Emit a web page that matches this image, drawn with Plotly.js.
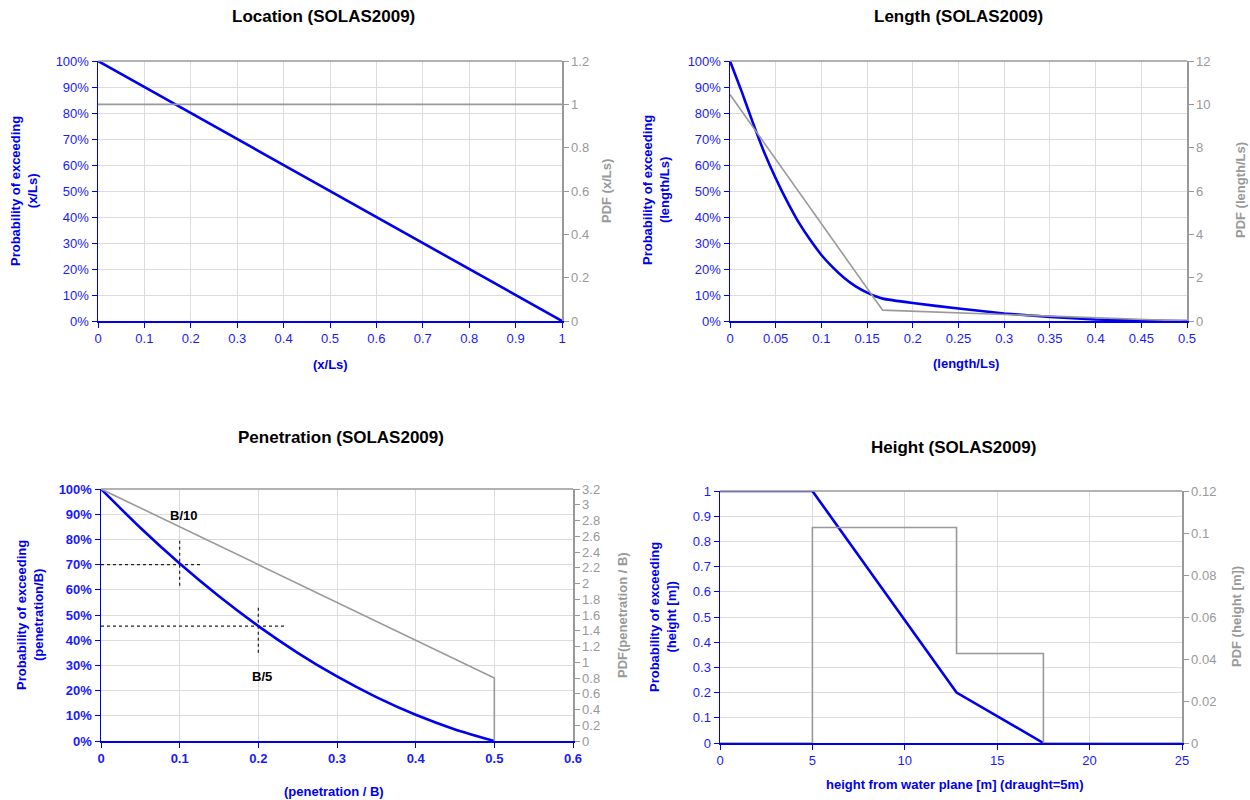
<!DOCTYPE html>
<html>
<head>
<meta charset="utf-8">
<script src="https://cdn.plot.ly/plotly-3.0.1.min.js"></script>
<style>html,body{margin:0;padding:0;background:#fff;}#chart{width:1250px;height:800px;}</style>
</head>
<body>
<div id="chart"></div>
<script>
// ---- Location ----
const locX = [0, 1];
const locProb = [1, 0];
const locPdfX = [0, 1];
const locPdf = [1, 1];

// ---- Length ----
const lenX = [0, 0.0125, 0.025, 0.0375, 0.05, 0.0625, 0.075, 0.0875, 0.1, 0.1125, 0.125, 0.1375, 0.15, 0.16, 0.167, 0.2, 0.25, 0.3, 0.35, 0.4, 0.45, 0.5];
const lenProb = [1, 0.885, 0.763, 0.648, 0.549, 0.46, 0.38, 0.313, 0.254, 0.206, 0.165, 0.133, 0.109, 0.094, 0.086, 0.069, 0.048, 0.029, 0.016, 0.006, 0.001, 0];
const lenPdfX = [0, 0.167, 0.5];
const lenPdf = [10.45, 0.5, 0];

// ---- Penetration ----
const penX = [0, 0.05, 0.1, 0.15, 0.2, 0.25, 0.3, 0.35, 0.4, 0.45, 0.5];
const penProb = [1, 0.846, 0.704, 0.574, 0.456, 0.35, 0.256, 0.174, 0.104, 0.046, 0];
const penPdfX = [0, 0.5, 0.5];
const penPdf = [3.2, 0.8, 0];
const refH1X = [0, 0.127]; const refH1Y = [0.70, 0.70];
const refV1X = [0.1, 0.1]; const refV1Y = [0.616, 0.804];
const refH2X = [0, 0.233]; const refH2Y = [0.456, 0.456];
const refV2X = [0.2, 0.2]; const refV2Y = [0.35, 0.54];
const penLabels = ['B/10', 'B/5'];
const penLabelX = [0.105, 0.205];
const penLabelY = [0.895, 0.255];

// ---- Height ----
const hX = [0, 5, 12.8, 17.5];
const hProb = [1, 1, 0.2, 0];
const hPdfX = [0, 5, 5, 12.8, 12.8, 17.5, 17.5, 25];
const hPdf = [0, 0, 0.1026, 0.1026, 0.0426, 0.0426, 0, 0];

const BLUE = '#0000ee';
const TBLUE = '#1a1aff';
const GRAY = '#999999';
const GRID = '#dcdcdc';
const FONT = 'Liberation Sans, Arial, sans-serif';
const TICK = 13;

function probLine(x, y, xa, ya) {
  return {x: x, y: y, xaxis: xa, yaxis: ya, type: 'scatter', mode: 'lines',
          line: {color: BLUE, width: 2.6}, hoverinfo: 'skip', showlegend: false};
}
function pdfLine(x, y, xa, ya) {
  return {x: x, y: y, xaxis: xa, yaxis: ya, type: 'scatter', mode: 'lines',
          line: {color: GRAY, width: 1.6}, hoverinfo: 'skip', showlegend: false};
}
function refLine(x, y) {
  return {x: x, y: y, xaxis: 'x3', yaxis: 'y5', type: 'scatter', mode: 'lines',
          line: {color: '#222222', width: 1.2, dash: 'dot'}, hoverinfo: 'skip', showlegend: false};
}

const lenPt = {x: lenX, y: lenProb, xaxis: 'x2', yaxis: 'y3', type: 'scatter', mode: 'lines',
               line: {color: BLUE, width: 2.6, shape: 'spline', smoothing: 0.5}, hoverinfo: 'skip', showlegend: false};
const penPt = {x: penX, y: penProb, xaxis: 'x3', yaxis: 'y5', type: 'scatter', mode: 'lines',
               line: {color: BLUE, width: 2.6, shape: 'spline', smoothing: 0.6}, hoverinfo: 'skip', showlegend: false};

const data = [
  pdfLine(locPdfX, locPdf, 'x', 'y2'),
  probLine(locX, locProb, 'x', 'y'),
  pdfLine(lenPdfX, lenPdf, 'x2', 'y4'),
  lenPt,
  pdfLine(penPdfX, penPdf, 'x3', 'y6'),
  refLine(refH1X, refH1Y), refLine(refV1X, refV1Y),
  refLine(refH2X, refH2Y), refLine(refV2X, refV2Y),
  penPt,
  pdfLine(hPdfX, hPdf, 'x4', 'y8'),
  probLine(hX, hProb, 'x4', 'y7')
];

function xAx(domain, range, dtick, anchor, bold) {
  return {domain: domain, range: range, dtick: dtick, tick0: 0, anchor: anchor,
          showgrid: true, gridcolor: GRID, gridwidth: 1, zeroline: false,
          showline: true, linecolor: BLUE, linewidth: 1.5,
          ticks: 'outside', ticklen: 5, tickcolor: BLUE,
          tickfont: {family: FONT, size: TICK, color: TBLUE, weight: bold ? 'bold' : 'normal'},
          fixedrange: true, automargin: false};
}
function yAx(domain, anchor, pct, bold) {
  const a = {domain: domain, range: [0, 1], dtick: 0.1, tick0: 0, anchor: anchor,
          showgrid: true, gridcolor: GRID, gridwidth: 1, zeroline: false,
          showline: true, linecolor: BLUE, linewidth: 1.5,
          ticks: 'outside', ticklen: 5, tickcolor: BLUE,
          tickfont: {family: FONT, size: TICK, color: TBLUE, weight: bold ? 'bold' : 'normal'},
          fixedrange: true, automargin: false};
  if (pct) a.tickformat = '.0%';
  return a;
}
function y2Ax(over, anchor, range, dtick) {
  return {overlaying: over, anchor: anchor, side: 'right', range: range, dtick: dtick, tick0: 0,
          showgrid: false, zeroline: false, showline: true, linecolor: GRAY, linewidth: 1.5,
          ticks: 'outside', ticklen: 5, tickcolor: GRAY,
          tickfont: {family: FONT, size: TICK, color: GRAY},
          fixedrange: true, automargin: false};
}

function title(text, x, y) {
  return {text: '<b>' + text + '</b>', x: x / 1250, y: 1 - y / 800, xref: 'paper', yref: 'paper',
          showarrow: false, xanchor: 'center', yanchor: 'middle',
          font: {family: FONT, size: 17, color: '#000000'}};
}
function axTitle(text, x, y, color, angle) {
  return {text: '<b>' + text + '</b>', x: x / 1250, y: 1 - y / 800, xref: 'paper', yref: 'paper',
          showarrow: false, xanchor: 'center', yanchor: 'middle', textangle: angle || 0,
          font: {family: FONT, size: 13, color: color}};
}

const annotations = [
  title('Location (SOLAS2009)', 323, 17),
  title('Length (SOLAS2009)', 958, 17),
  title('Penetration (SOLAS2009)', 341, 437),
  title('Height (SOLAS2009)', 953, 447),
  axTitle('Probability of exceeding<br>(x/Ls)', 24, 191, BLUE, -90),
  axTitle('PDF (x/Ls)', 606, 191, GRAY, -90),
  axTitle('(x/Ls)', 330, 364, BLUE),
  axTitle('Probability of exceeding<br>(length/Ls)', 656, 190, BLUE, -90),
  axTitle('PDF (length/Ls)', 1240, 190, GRAY, -90),
  axTitle('(length/Ls)', 966, 363, BLUE),
  axTitle('Probability of exceeding<br>(penetration/B)', 30, 615, BLUE, -90),
  axTitle('PDF(penetration / B)', 622, 615, GRAY, -90),
  axTitle('(penetration / B)', 334, 791, BLUE),
  axTitle('Probability of exceeding<br>(height [m])', 663, 617, BLUE, -90),
  axTitle('PDF (height [m])', 1236, 617, GRAY, -90),
  axTitle('height from water plane [m] (draught=5m)', 955, 784, BLUE)
];
for (let i = 0; i < penLabels.length; i++) {
  annotations.push({text: '<b>' + penLabels[i] + '</b>', x: penLabelX[i], y: penLabelY[i], xref: 'x3', yref: 'y5',
                    showarrow: false, xanchor: 'center', yanchor: 'middle',
                    font: {family: FONT, size: 13, color: '#000000'}});
}

function topLine(xr, yr) {
  return {type: 'line', xref: xr + ' domain', yref: yr + ' domain', x0: 0, x1: 1, y0: 1, y1: 1,
          line: {color: GRAY, width: 1.5}, layer: 'above'};
}

const layout = {
  width: 1250, height: 800,
  margin: {l: 0, r: 0, t: 0, b: 0},
  paper_bgcolor: '#ffffff', plot_bgcolor: '#ffffff',
  showlegend: false,
  font: {family: FONT},
  xaxis: xAx([0.0784, 0.4496], [0, 1], 0.1, 'y', false),
  yaxis: yAx([0.59875, 0.92375], 'x', true, false),
  yaxis2: y2Ax('y', 'x', [0, 1.2], 0.2),
  xaxis2: xAx([0.584, 0.9496], [0, 0.5], 0.05, 'y3', false),
  yaxis3: yAx([0.59875, 0.92375], 'x2', true, false),
  yaxis4: y2Ax('y3', 'x2', [0, 12], 2),
  xaxis3: xAx([0.0808, 0.4584], [0, 0.6], 0.1, 'y5', true),
  yaxis5: yAx([0.07375, 0.38875], 'x3', true, true),
  yaxis6: y2Ax('y5', 'x3', [0, 3.2], 0.2),
  xaxis4: xAx([0.576, 0.9456], [0, 25], 5, 'y7', false),
  yaxis7: yAx([0.07125, 0.38625], 'x4', false, false),
  yaxis8: y2Ax('y7', 'x4', [0, 0.12], 0.02),
  annotations: annotations,
  shapes: [topLine('x', 'y'), topLine('x2', 'y3'), topLine('x3', 'y5'), topLine('x4', 'y7')]
};

Plotly.newPlot('chart', data, layout, {displayModeBar: false, staticPlot: true});
</script>
</body>
</html>
